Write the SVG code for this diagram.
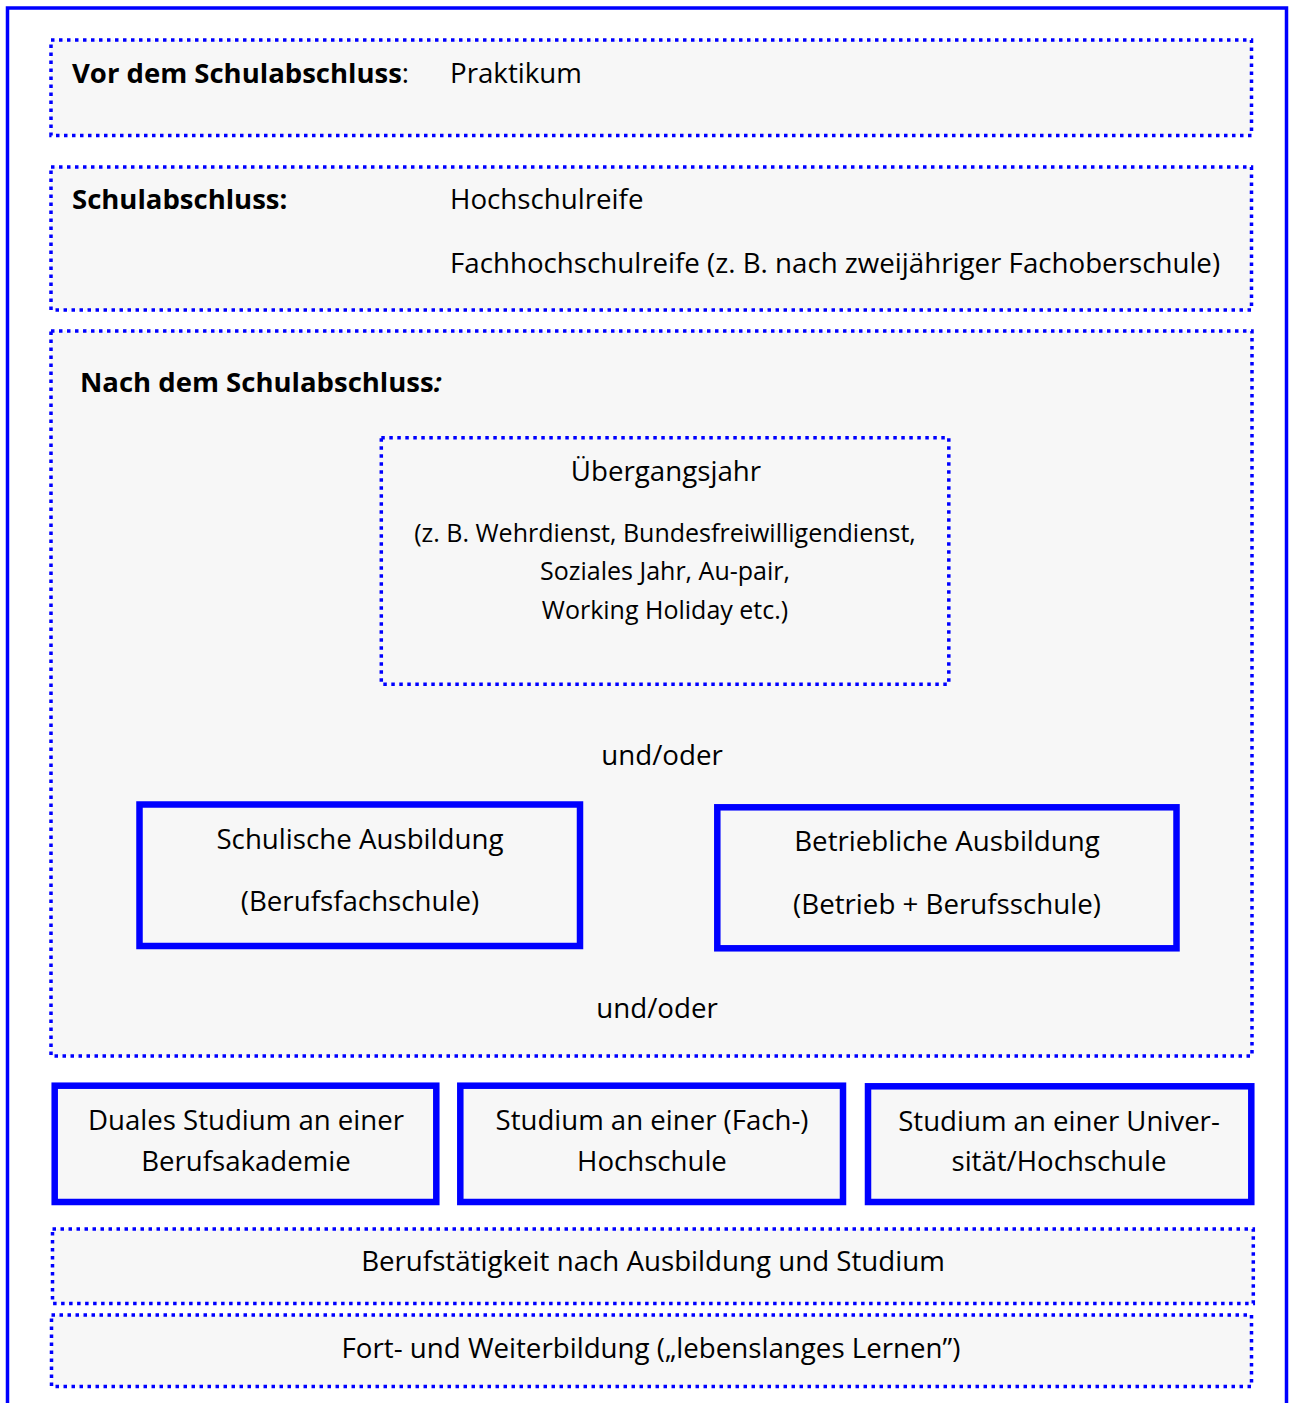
<svg xmlns="http://www.w3.org/2000/svg" width="1291" height="1403" viewBox="0 0 1291 1403">
<style>
.dot{fill:#f7f7f7;stroke:#0000ff;stroke-width:3.5;stroke-dasharray:3.5 4.5}
.solid{fill:#f7f7f7;stroke:#0000ff;stroke-width:6.5}
text{font-family:"Open Sans","Noto Sans",sans-serif;fill:#000;font-size:27.7px}
.b{font-weight:bold;font-size:27.5px}
.c{text-anchor:middle}
.s{font-size:25px}
.l{font-size:27.6px}
</style>
<rect x="0" y="0" width="1291" height="1403" fill="#fff"/>
<rect x="7.5" y="8" width="1279" height="1500" fill="#fff" stroke="#0000ff" stroke-width="3.5"/>
<g id="vor">
<rect class="dot" x="51" y="40" width="1200.5" height="95.5"/>
<text class="b" x="72" y="83">Vor dem Schulabschluss<tspan font-weight="normal">:</tspan></text>
<text x="450" y="83">Praktikum</text>
</g>
<g id="schulabschluss">
<rect class="dot" x="51" y="167" width="1200.5" height="143"/>
<text class="b" x="72" y="209">Schulabschluss:</text>
<text x="450" y="209">Hochschulreife</text>
<text x="450" y="273">Fachhochschulreife (z. B. nach zweijähriger Fachoberschule)</text>
</g>
<g id="nach">
<rect class="dot" x="51" y="331" width="1201" height="725"/>
<text class="b" x="80" y="392">Nach dem Schulabschluss<tspan font-style="italic">:</tspan></text>
<text class="c" x="662" y="765">und/oder</text>
<text class="c" x="657" y="1018">und/oder</text>
</g>
<g id="uebergangsjahr">
<rect class="dot" x="381.3" y="437.7" width="567.5" height="246.5"/>
<text class="c" x="666" y="481">Übergangsjahr</text>
<text class="c s" x="665" y="542">(z. B. Wehrdienst, Bundesfreiwilligendienst,</text>
<text class="c s" x="665" y="580">Soziales Jahr, Au-pair,</text>
<text class="c s" x="665" y="619">Working Holiday etc.)</text>
</g>
<g id="schulische">
<rect class="solid" x="139.5" y="804.5" width="440.5" height="141.5"/>
<text class="c" x="360" y="849">Schulische Ausbildung</text>
<text class="c" x="360" y="911">(Berufsfachschule)</text>
</g>
<g id="betriebliche">
<rect class="solid" x="717.3" y="807.3" width="459.2" height="141"/>
<text class="c" x="947" y="851">Betriebliche Ausbildung</text>
<text class="c" x="947" y="914">(Betrieb + Berufsschule)</text>
</g>
<g id="duales">
<rect class="solid" x="54.7" y="1085.7" width="381.6" height="116.3"/>
<text class="c l" x="246" y="1130">Duales Studium an einer</text>
<text class="c l" x="246" y="1171">Berufsakademie</text>
</g>
<g id="fachhochschule">
<rect class="solid" x="460.3" y="1085.7" width="382.7" height="116.3"/>
<text class="c l" x="652" y="1130">Studium an einer (Fach-)</text>
<text class="c l" x="652" y="1171">Hochschule</text>
</g>
<g id="universitaet">
<rect class="solid" x="868" y="1086.3" width="383.3" height="115.7"/>
<text class="c l" x="1059" y="1130.5">Studium an einer Univer-</text>
<text class="c l" x="1059" y="1171">sität/Hochschule</text>
</g>
<g id="beruf">
<rect class="dot" x="52.5" y="1229" width="1200.8" height="74.5"/>
<text class="c" x="653" y="1271">Berufstätigkeit nach Ausbildung und Studium</text>
</g>
<g id="fortbildung">
<rect class="dot" x="51.5" y="1315" width="1200" height="71.5"/>
<text class="c" x="651" y="1358">Fort- und Weiterbildung („lebenslanges Lernen”)</text>
</g>
<g id="connectors"></g>
</svg>
